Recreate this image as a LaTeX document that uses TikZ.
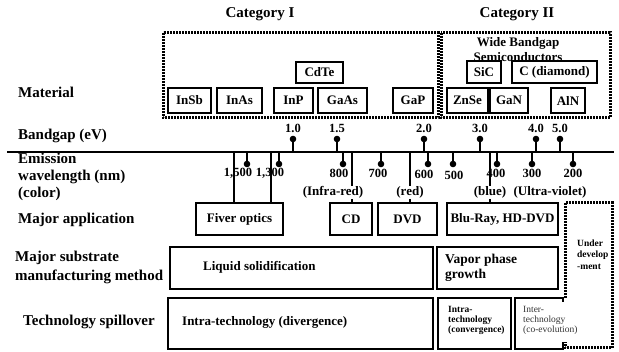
\documentclass[tikz,border=0pt]{standalone}
\usepackage{fontspec}
\setmainfont{Liberation Serif}
\newcommand\rowfont{\fontsize{15}{17.5}\selectfont\bfseries}
\newcommand\boxfont{\fontsize{13}{15}\selectfont\bfseries}
\newcommand\tickfont{\fontsize{12.5}{14}\selectfont\bfseries}
\newcommand\tinyfont{\fontsize{9.5}{10}\selectfont}
\newcommand\rbox[7][]{\node[bx,#1,minimum width={(#5-#3)*1pt},minimum height={(#6-#4)*1pt}] (#2) at ({(#3+#5)/2},{(#4+#6)/2}) {#7};}
\begin{document}
\begin{tikzpicture}[x=1pt,y=-1pt,
  bx/.style={draw,line width=1.5pt,inner sep=0pt,font=\boxfont,fill=white},
  dbox/.style={line width=3pt,dash pattern=on 2pt off 1pt},
  rowlab/.style={anchor=west,align=left,font=\rowfont,inner sep=0pt},
  ticklab/.style={font=\tickfont,inner sep=0pt},
  collab/.style={font=\boxfont,fill=white,inner sep=1pt},
  tk/.style={line width=1.4pt},
  dot/.style={fill=black}]
\useasboundingbox (0,0) rectangle (619,352);
% row labels
\node[rowlab] (lmat) at (18,92) {Material};
\node[rowlab] (lbg) at (18,136) {Bandgap (eV)};
\node[rowlab] (lem) at (18,177) {Emission\\[-0.5pt]wavelength (nm)\\[-0.5pt](color)};
\node[rowlab] (lapp) at (18,220) {Major application};
\node[rowlab] (lsub) at (15,267.5) {Major substrate\\[1pt]manufacturing method};
\node[rowlab] (lspill) at (23,322) {Technology spillover};
% categories
\node[font=\rowfont] (cat1) at (260,14) {Category I};
\node[font=\rowfont] (cat2) at (517,14) {Category II};
\draw[dbox] (163,33) rectangle (438,118);
\draw[dbox] (441,33) rectangle (610,118);
\node[font=\boxfont,align=center,inner sep=0pt] (wbg) at (518,49.5) {Wide Bandgap\\Semiconductors};
% material boxes
\rbox{insb}{168}{88}{211}{113}{InSb}
\rbox{inas}{217}{88}{262}{113}{InAs}
\rbox{inp}{274}{88}{313}{113}{InP}
\rbox{gaas}{318}{88}{367}{113}{GaAs}
\rbox{gap}{393}{88}{433}{113}{GaP}
\rbox{znse}{447}{88}{488}{113}{ZnSe}
\rbox{gan}{490}{88}{528}{113}{GaN}
\rbox{aln}{551}{88}{585}{113}{AlN}
\rbox{cdte}{296}{62}{343}{83}{CdTe}
\rbox{sic}{467}{61}{501}{83}{SiC}
\rbox{dia}{512}{61}{597}{83}{C (diamond)}
% axis
\coordinate (axl) at (7,152);
\coordinate (axr) at (614,152);
\draw[line width=1.8pt] (axl) -- (axr);
% bandgap ticks
\foreach \x/\t in {293/1.0,337/1.5,424/2.0,480/3.0,536/4.0,560/5.0}{
  \coordinate (b\x) at (\x,152);
  \coordinate (bd\x) at (\x,139);
  \draw[tk] (b\x) -- (bd\x);
  \fill[dot] (bd\x) circle (3.3pt);
  \node[ticklab] at (\x,128) {\t};
}
% wavelength ticks
\foreach \x/\lx/\ly/\t in {247/238/173/{1,500},279/270/173/{1,300},343/339/173/800,381/378/173/700,428/424/174/600,453/454/175/500,497/496/173/400,532/532/173/300,573/573/173/200}{
  \coordinate (w\x) at (\x,152);
  \coordinate (wd\x) at (\x,164);
  \draw[tk] (w\x) -- (wd\x);
  \fill[dot] (wd\x) circle (3.3pt);
  \node[ticklab] at (\lx,\ly) {\t};
}
% application boxes
\rbox{fib}{196}{203}{283}{235}{Fiver optics}
\rbox{cd}{330}{203}{372}{235}{CD}
\rbox{dvd}{378}{203}{437}{235}{DVD}
\rbox{blu}{447}{203}{558}{235}{Blu-Ray, HD-DVD}
% long lines
\coordinate (l1) at (234,152);
\coordinate (l2) at (271,152);
\coordinate (l3) at (352,152);
\coordinate (l4) at (410,152);
\coordinate (l5) at (490,152);
\draw[tk] (l1) -- (l1 |- fib.north);
\draw[tk] (l2) -- (l2 |- fib.north);
\draw[tk] (l3) -- (l3 |- cd.north);
\draw[tk] (l4) -- (l4 |- dvd.north);
\draw[tk] (l5) -- (l5 |- blu.north);
\node[collab] (cir) at (333,192.5) {(Infra-red)};
\node[collab] (cred) at (410,192.5) {(red)};
\node[collab] (cblue) at (490,192.5) {(blue)};
\node[collab] (cuv) at (550,192.5) {(Ultra-violet)};
% substrate row
\rbox{liq}{170}{247}{433}{289}{}
\node[font=\boxfont,anchor=west,inner sep=0pt] (liqt) at (203,267) {Liquid solidification};
\rbox{vap}{437}{247}{558}{289}{}
\node[font=\fontsize{13.5}{15}\selectfont\bfseries,anchor=west,align=left,inner sep=0pt] (vapt) at (445,267.5) {Vapor phase\\growth};
% spillover row
\rbox{idiv}{168}{298}{433}{349}{}
\node[font=\boxfont,anchor=west,inner sep=0pt] (idivt) at (182,322) {Intra-technology (divergence)};
\rbox{iconv}{438}{298}{511}{349}{}
\node[font=\tinyfont\bfseries,anchor=west,align=left,inner sep=0pt] (iconvt) at (448,320) {Intra-\\technology\\(convergence)};
\draw[line width=1.5pt] (563,302) -- (563,298) -- (515,298) -- (515,349) -- (563,349) -- (563,342);
\node[font=\tinyfont,anchor=west,align=left,inner sep=0pt,text=black!80] (intert) at (523,320) {Inter-\\technology\\(co-evolution)};
% under development
\draw[dbox] (565,298) -- (565,203) -- (612,203) -- (612,348) -- (565,348) -- (565,342);
\node[font=\fontsize{9.5}{11.5}\selectfont\bfseries,anchor=west,align=left,inner sep=0pt] (undev) at (577,254.5) {Under\\develop\\-ment};
\end{tikzpicture}
\end{document}
